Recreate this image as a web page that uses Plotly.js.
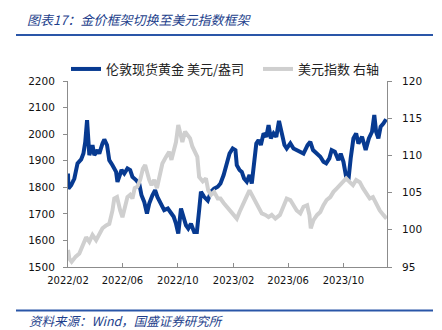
<!DOCTYPE html>
<html><head><meta charset="utf-8">
<script src="https://cdn.plot.ly/plotly-3.0.1.min.js"></script>
<style>html,body{margin:0;padding:0;background:#fff}#chart{width:442px;height:330px}</style>
</head><body><div id="chart"></div>
<script>
// x values are days counted from 2022-02-01
const startDate = "2022-02-01";
const goldDay = [0,1,7,14,21,29,34,38,42,45,47,54,58,65,69,76,80,86,91,98,106,109,113,118,124,131,137,142,150,157,162,168,174,179,186,192,197,205,212,220,227,233,238,243,249,255,260,265,271,278,284,289,293,300,308,315,322,330,336,343,350,356,363,369,372,378,383,388,394,400,405,409,415,420,425,431,437,442,447,453,459,465,468,472,477,482,490,497,504,512,519,528,534,540,548,556,563,569,576,581,588,596,601,607,613,618,623,629,635,640,648,656,663,670,675,679,684,689,695,701];
const gold = [1852,1795,1808,1833,1890,1905,1927,1970,2053,1978,1921,1959,1921,1940,1927,1965,1980,1959,1902,1883,1858,1820,1839,1865,1852,1871,1865,1839,1827,1814,1770,1745,1701,1739,1770,1789,1764,1739,1714,1720,1701,1689,1663,1626,1720,1689,1657,1645,1663,1632,1632,1714,1783,1764,1750,1783,1795,1802,1814,1846,1896,1927,1946,1940,1883,1865,1858,1833,1821,1846,1814,1877,1965,1978,1959,2003,1990,2034,1984,2003,1990,2050,2028,1997,1959,1946,1965,1946,1940,1934,1927,1959,1971,1940,1927,1915,1896,1890,1909,1940,1934,1902,1927,1896,1839,1827,1909,1984,2003,1965,1990,1940,1984,2009,2072,2009,1984,2028,2040,2056];

const dxyDay = [0,3,8,17,25,32,40,47,54,62,69,76,84,91,98,102,108,111,115,120,126,131,137,142,147,153,159,165,170,174,179,184,190,196,203,208,216,223,228,233,238,243,247,252,258,263,269,274,280,285,289,297,304,309,315,322,330,336,343,350,357,365,372,378,385,393,400,405,410,415,420,427,435,442,449,457,467,476,482,490,497,504,512,519,527,532,535,541,549,556,563,570,578,585,593,600,607,613,621,628,635,643,650,657,665,672,679,687,695,702];
const dxy = [97.3,96.1,95.7,96.4,96.8,97.7,99.0,98.4,99.3,98.6,99.3,100.2,100.6,100.8,102.6,104.2,104.4,103.5,102.6,101.7,103.1,104.4,104.7,104.2,105.6,105.8,106.7,108.2,108.7,107.6,106.7,106.0,106.7,105.6,107.6,108.9,109.8,110.5,109.4,110.5,111.8,114.1,113.0,111.8,113.2,112.7,112.3,111.2,110.3,109.8,107.1,106.5,106.9,105.3,104.7,105.1,104.2,104.2,103.6,103.1,102.4,102.0,101.5,102.4,103.5,104.4,105.3,104.7,104.2,103.5,102.9,102.2,102.0,101.7,102.0,101.5,102.0,103.3,104.2,104.0,103.3,102.6,102.2,103.1,103.3,102.0,100.2,101.3,102.0,102.4,103.3,104.0,104.4,105.1,105.6,106.0,106.4,106.9,106.4,106.0,106.7,106.4,105.6,104.9,104.2,104.4,103.5,102.6,102.0,101.5];

const goldName = "伦敦现货黄金 美元/盎司";
const dxyName = "美元指数 右轴";
const titleText = "图表17：金价框架切换至美元指数框架";
const sourceText = "资料来源：Wind，国盛证券研究所";
const xTickFormat = "%Y/%m";
const xRange = ["2022-02-01", "2024-01-05"];

const toDate = d => {
  const t = new Date(startDate + "T00:00:00Z");
  t.setUTCDate(t.getUTCDate() + d);
  return t.toISOString().slice(0, 10);
};

const W = 442, H = 330, ML = 68, MR = 55, MT = 81, MB = 63;
const PW = W - ML - MR, PH = H - MT - MB;
const px2x = p => (p - ML) / PW;
const px2y = p => (H - MB - p) / PH;

const cjk = "'Noto Sans CJK SC', 'Noto Sans', sans-serif";
const num = "'DejaVu Sans', Verdana, sans-serif";
const blue = "#1E3F8C";

const traces = [
  {x: dxyDay.map(toDate), y: dxy, name: dxyName, yaxis: "y2", type: "scatter", mode: "lines",
   line: {color: "#CFCFCF", width: 4}, legend: "legend2"},
  {x: goldDay.map(toDate), y: gold, name: goldName, yaxis: "y", type: "scatter", mode: "lines",
   line: {color: "#073A91", width: 4}, legend: "legend"}
];

const legendBase = {orientation: "h", y: px2y(69), xanchor: "left", yanchor: "middle",
  font: {family: cjk, size: 13, color: "#222"}, bgcolor: "rgba(0,0,0,0)", itemwidth: 30};

const layout = {
  width: W, height: H,
  margin: {l: ML, r: MR, t: MT, b: MB, pad: 0},
  paper_bgcolor: "#fff", plot_bgcolor: "#fff",
  showlegend: true,
  legend: Object.assign({}, legendBase, {x: px2x(66)}),
  legend2: Object.assign({}, legendBase, {x: px2x(258)}),
  title: {text: titleText, x: 27 / W, xref: "container", xanchor: "left",
    y: 1 - 20 / H, yref: "container", yanchor: "middle",
    font: {family: cjk, size: 13, color: blue, style: "italic"}},
  xaxis: {type: "date", range: xRange, tick0: "2022-02-01", dtick: "M4",
    tickformat: xTickFormat, showgrid: false, zeroline: false, showline: true,
    linecolor: "#8C8C8C", linewidth: 1, ticks: "inside", ticklen: 4, tickcolor: "#8C8C8C",
    tickfont: {family: num, size: 10, color: "#111"}, ticklabelstandoff: 4},
  yaxis: {range: [1500, 2200], dtick: 100, showgrid: false, zeroline: false, showline: true,
    linecolor: "#8C8C8C", linewidth: 1, ticks: "outside", ticklen: 4, tickcolor: "#8C8C8C",
    tickfont: {family: num, size: 10.5, color: "#111"}, ticklabelstandoff: 6},
  yaxis2: {range: [95, 120], dtick: 5, overlaying: "y", side: "right", showgrid: false,
    zeroline: false, showline: true, linecolor: "#8C8C8C", linewidth: 1, ticks: "outside",
    ticklen: 4, tickcolor: "#8C8C8C", tickfont: {family: num, size: 10.5, color: "#111"},
    ticklabelstandoff: 8},
  shapes: [
    {type: "line", xref: "paper", yref: "paper", x0: px2x(16), x1: px2x(433), y0: px2y(35), y1: px2y(35),
     line: {color: "#2A56A8", width: 2}},
    {type: "line", xref: "paper", yref: "paper", x0: px2x(16), x1: px2x(433), y0: px2y(310.5), y1: px2y(310.5),
     line: {color: "#2A56A8", width: 2}}
  ],
  annotations: [
    {text: sourceText, xref: "paper", yref: "paper", x: px2x(27), y: px2y(320), xanchor: "left",
     yanchor: "middle", showarrow: false, font: {family: cjk, size: 12.5, color: blue, style: "italic"}}
  ]
};

Plotly.newPlot("chart", traces, layout, {displayModeBar: false, staticPlot: true});
</script></body></html>
